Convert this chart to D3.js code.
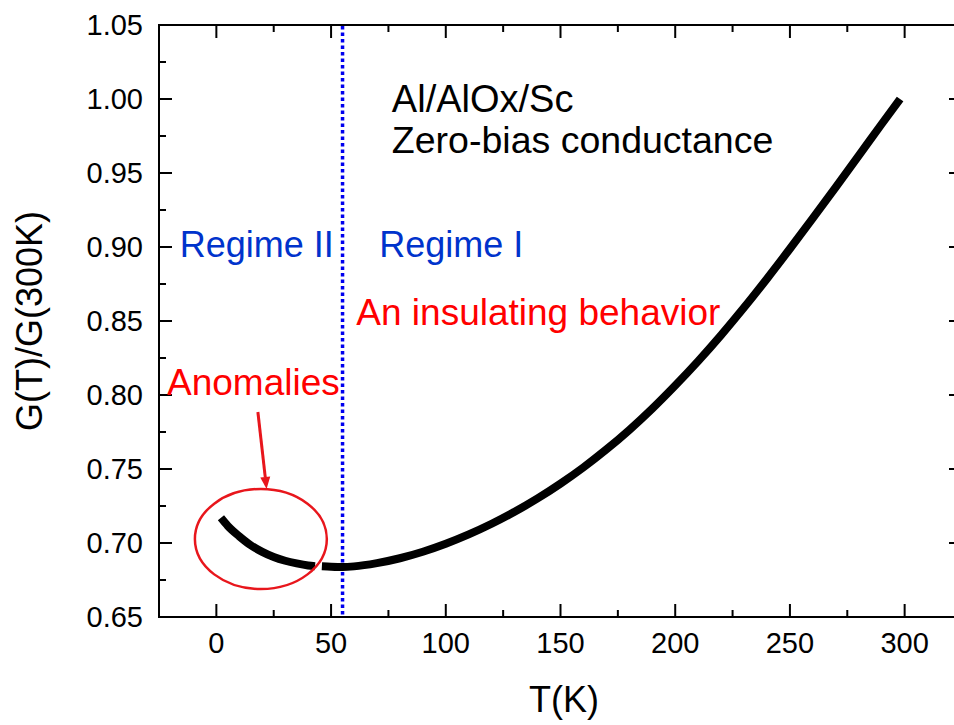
<!DOCTYPE html>
<html>
<head>
<meta charset="utf-8">
<script src="https://cdn.jsdelivr.net/npm/d3@7"></script>
<style>
  body { margin: 0; background: #fff; }
  text { font-family: "Liberation Sans", Arial, sans-serif; }
</style>
</head>
<body>
<div id="chart"></div>
<script>
// Data: two measured pieces of the G(T)/G(300K) curve (a small gap near 44 K)
var tempLow = [2, 5, 10, 15, 20, 25, 30, 35, 40, 43];
var gLow = [0.717, 0.7115, 0.7045, 0.6985, 0.694, 0.6905, 0.688, 0.6862, 0.6848, 0.6843];
var tempHigh = [46, 50, 55, 60, 70, 80, 90, 100, 110, 120, 130, 140, 150, 160, 170, 180,
                190, 200, 210, 220, 230, 240, 250, 260, 270, 280, 290, 298];
var gHigh = [0.6843, 0.684, 0.6838, 0.6842, 0.6864, 0.6897, 0.6941, 0.6995, 0.7058, 0.713,
             0.7211, 0.7301, 0.7401, 0.7511, 0.7632, 0.7764, 0.7908, 0.8064, 0.8229, 0.8405,
             0.8591, 0.8786, 0.8988, 0.9195, 0.9405, 0.9617, 0.9831, 1.0];
var xTicks = [0, 50, 100, 150, 200, 250, 300];
var yTicks = [0.65, 0.70, 0.75, 0.80, 0.85, 0.90, 0.95, 1.00, 1.05];
var boundaryT = 55;

var width = 954, height = 725;
var svg = d3.select("#chart").append("svg")
  .attr("width", width).attr("height", height);

var x = d3.scaleLinear().domain([-25, 325]).range([159, 962]);
var y = d3.scaleLinear().domain([0.65, 1.05]).range([617, 25]);

var x0 = x.range()[0], x1 = x.range()[1], y0 = y.range()[0], y1 = y.range()[1];

// minor ticks halfway between the majors
var xMinor = d3.range(-25, 326, 25);
var yMinor = d3.range(0, 17).map(function(i) { return 0.65 + i * 0.025; });

var axes = svg.append("g").attr("stroke", "#000").attr("stroke-width", 2);

// inward ticks on all four sides
xMinor.forEach(function(v) {
  var major = xTicks.indexOf(v) >= 0;
  var len = major ? 13 : 7;
  axes.append("line").attr("x1", x(v)).attr("x2", x(v)).attr("y1", y0).attr("y2", y0 - len);
  axes.append("line").attr("x1", x(v)).attr("x2", x(v)).attr("y1", y1).attr("y2", y1 + len);
});
yMinor.forEach(function(v) {
  var major = Math.abs(Math.round(v * 20) - v * 20) < 1e-6;
  var len = major ? 13 : 7;
  axes.append("line").attr("y1", y(v)).attr("y2", y(v)).attr("x1", x0).attr("x2", x0 + len);
  axes.append("line").attr("y1", y(v)).attr("y2", y(v)).attr("x1", x1).attr("x2", x1 - len);
});

axes.append("rect")
  .attr("x", x0).attr("y", y1)
  .attr("width", x1 - x0).attr("height", y0 - y1)
  .attr("fill", "none");

// tick labels
svg.append("g").selectAll("text").data(xTicks).enter().append("text")
  .attr("x", function(d) { return x(d); })
  .attr("y", 653)
  .attr("text-anchor", "middle")
  .attr("font-size", 29)
  .text(function(d) { return d; });

svg.append("g").selectAll("text").data(yTicks).enter().append("text")
  .attr("x", 143)
  .attr("y", function(d) { return y(d); })
  .attr("dy", "0.36em")
  .attr("text-anchor", "end")
  .attr("font-size", 29)
  .text(function(d) { return d3.format(".2f")(d); });

// axis titles
svg.append("text")
  .attr("x", 564).attr("y", 712)
  .attr("text-anchor", "middle")
  .attr("font-size", 36)
  .text("T(K)");

svg.append("text")
  .attr("transform", "translate(42,321) rotate(-90)")
  .attr("text-anchor", "middle")
  .attr("font-size", 36)
  .text("G(T)/G(300K)");

// regime boundary
svg.append("line")
  .attr("x1", x(boundaryT)).attr("x2", x(boundaryT))
  .attr("y1", y1 + 1).attr("y2", y0 - 1)
  .attr("stroke", "#0000ee")
  .attr("stroke-width", 3.5)
  .attr("stroke-dasharray", "3.5,3");

// curve
var line = d3.line()
  .x(function(d) { return x(d[0]); })
  .y(function(d) { return y(d[1]); })
  .curve(d3.curveMonotoneX);

[[tempLow, gLow], [tempHigh, gHigh]].forEach(function(s) {
  svg.append("path")
    .datum(d3.zip(s[0], s[1]))
    .attr("d", line)
    .attr("fill", "none")
    .attr("stroke", "#000")
    .attr("stroke-width", 8);
});

// annotations
var blue = "#0033cc", red = "#ff0000";
function label(t, g, txt, color, size) {
  svg.append("text")
    .attr("x", x(t)).attr("y", y(g))
    .attr("font-size", size)
    .attr("fill", color)
    .text(txt);
}
label(76.5, 0.9915, "Al/AlOx/Sc", "#000", 38);
label(76.5, 0.9635, "Zero-bias conductance", "#000", 37.5);
label(-16, 0.893, "Regime II", blue, 36);
label(71, 0.893, "Regime I", blue, 36);
label(61, 0.847, "An insulating behavior", red, 37);
label(-21.5, 0.800, "Anomalies", red, 37);

// ellipse around the anomalies
svg.append("ellipse")
  .attr("cx", x(19.4)).attr("cy", y(0.7027))
  .attr("rx", x(19.4 + 28.75) - x(19.4))
  .attr("ry", y(0.7027) - y(0.7027 + 0.0338))
  .attr("fill", "none")
  .attr("stroke", "#e8161c")
  .attr("stroke-width", 2.5);

// arrow
var ax0 = x(18.1), ay0 = y(0.7885), ax1 = x(21.9), ay1 = y(0.7365);
var ang = Math.atan2(ay1 - ay0, ax1 - ax0);
var headLen = 12, headW = 5;
svg.append("line")
  .attr("x1", ax0).attr("y1", ay0)
  .attr("x2", ax1 - headLen * Math.cos(ang)).attr("y2", ay1 - headLen * Math.sin(ang))
  .attr("stroke", "#e8161c").attr("stroke-width", 3);
var bx = ax1 - headLen * Math.cos(ang), by = ay1 - headLen * Math.sin(ang);
svg.append("path")
  .attr("d", "M" + ax1 + "," + ay1 +
    "L" + (bx + headW * Math.sin(ang)) + "," + (by - headW * Math.cos(ang)) +
    "L" + (bx - headW * Math.sin(ang)) + "," + (by + headW * Math.cos(ang)) + "Z")
  .attr("fill", "#e8161c");
</script>
</body>
</html>
